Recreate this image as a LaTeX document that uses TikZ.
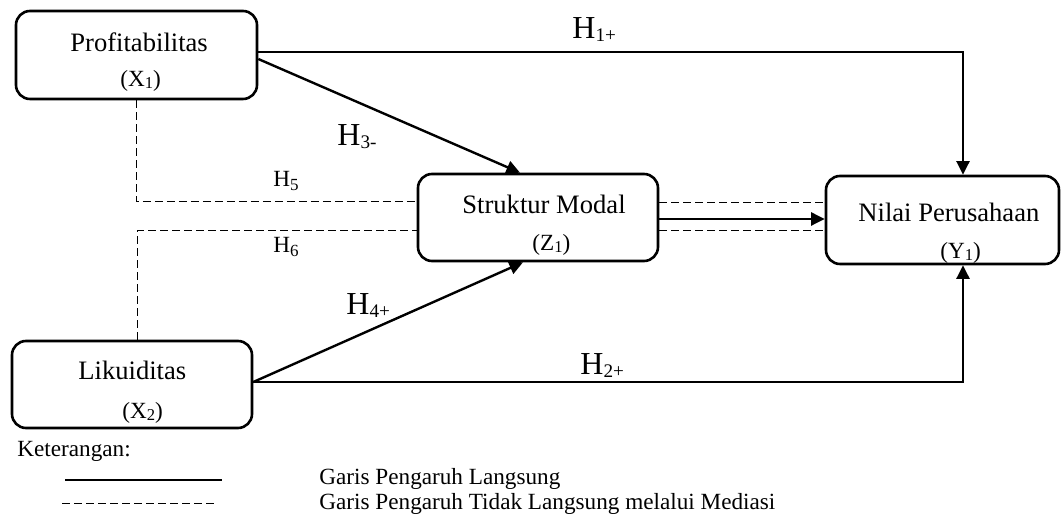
\documentclass[tikz,border=0pt]{standalone}
\usepackage{fontspec}
\setmainfont{Liberation Serif}
\usetikzlibrary{arrows.meta,calc}

% lowered, reduced subscripts for the labels
\newcommand\bigsub[1]{\raisebox{-1.3pt}{\fontsize{9.6pt}{10pt}\selectfont#1}}
\newcommand\smallsub[1]{\raisebox{-1.6pt}{\fontsize{8.5pt}{9pt}\selectfont#1}}
\newcommand\varsub[1]{\raisebox{-0.8pt}{\fontsize{8.3pt}{9pt}\selectfont#1}}

\tikzset{
  varbox/.style={draw, line width=1.3pt, rounded corners=7pt, rectangle,
                 inner sep=0pt, fill=white},
  boxtxt/.style={inner sep=0pt, anchor=base west, font=\fontsize{13.3pt}{15pt}\selectfont},
  hyptxt/.style={inner sep=0pt, anchor=base west, font=\fontsize{16pt}{18pt}\selectfont},
  smalltxt/.style={inner sep=0pt, anchor=base west, font=\fontsize{11.6pt}{14pt}\selectfont},
  direct/.style={line width=1.2pt, -{Triangle[length=6.8pt,width=6.5pt]}},
  plainline/.style={line width=0.6pt},
  mediated/.style={line width=0.5pt, dash pattern=on 4pt off 2pt},
}

\begin{document}
\begin{tikzpicture}[x=0.5pt,y=-0.5pt]
\useasboundingbox (0,0) rectangle (1061,517);

% variable boxes
\node[varbox, minimum width=120.5pt, minimum height=44pt] (x1) at (136.5,55) {};
\node[varbox, minimum width=120pt, minimum height=43.5pt] (x2) at (132,384.5) {};
\node[varbox, minimum width=120pt, minimum height=43.5pt] (z1) at (538,217.5) {};
\node[varbox, minimum width=116.5pt, minimum height=44pt] (y1) at (942.5,220) {};

% dashed mediation paths
\draw[mediated] (x1.south) |- ([yshift=7.75pt]z1.west);
\draw[mediated] ([xshift=2.5pt]x2.north) |- ([yshift=-6.75pt]z1.west);
\draw[mediated] ([yshift=7.5pt]z1.east) -- ([yshift=7.5pt]z1.east -| y1.west);
\draw[mediated] ([yshift=-6.75pt]z1.east) -- ([yshift=-6.75pt]z1.east -| y1.west);

% direct effects
\draw[direct] ([yshift=1.5pt]x1.east) -| ([xshift=10.25pt]y1.north);
\draw[direct] ([yshift=-2pt]x1.east) -- ([xshift=-9pt]z1.north);
\draw[direct] ([yshift=1.25pt]x2.east) -- ([xshift=-7.5pt]z1.south);
\draw[direct] ([yshift=1.25pt]x2.east) -| ([xshift=10.25pt]y1.south);
\draw[direct] ([yshift=-0.75pt]z1.east) -- ([yshift=-0.75pt]z1.east -| y1.west);

% box texts
\node[boxtxt] (x1a) at (70,52) {Profitabilitas};
\node[smalltxt] (x1b) at (120,87) {(X\varsub{1})};
\node[boxtxt] (x2a) at (78,380) {Likuiditas};
\node[smalltxt] (x2b) at (122,419) {(X\varsub{2})};
\node[boxtxt] (z1a) at (462,214) {Struktur Modal};
\node[smalltxt] (z1b) at (532,251) {(Z\varsub{1})};
\node[boxtxt] (y1a) at (858,222) {Nilai Perusahaan};
\node[smalltxt] (y1b) at (940,259) {(Y\varsub{1})};

% hypothesis labels
\node[hyptxt] (h1) at (572,39) {H\bigsub{1+}};
\node[hyptxt] (h2) at (580,375) {H\bigsub{2+}};
\node[hyptxt] (h3) at (337,146) {H\bigsub{3-}};
\node[hyptxt] (h4) at (346,315) {H\bigsub{4+}};
\node[smalltxt] (h5) at (273,187) {H\smallsub{5}};
\node[smalltxt] (h6) at (273,253) {H\smallsub{6}};

% legend
\node[smalltxt] (ket) at (17,457) {Keterangan:};
\coordinate (la) at (65,480);
\coordinate (lb) at (222,480);
\coordinate (lc) at (62,504);
\coordinate (ld) at (217,504);
\draw[plainline] (la) -- (lb);
\draw[mediated] (lc) -- (ld);
\node[smalltxt] (lt1) at (319,485) {Garis Pengaruh Langsung};
\node[smalltxt] (lt2) at (319,510) {Garis Pengaruh Tidak Langsung melalui Mediasi};
\end{tikzpicture}
\end{document}
